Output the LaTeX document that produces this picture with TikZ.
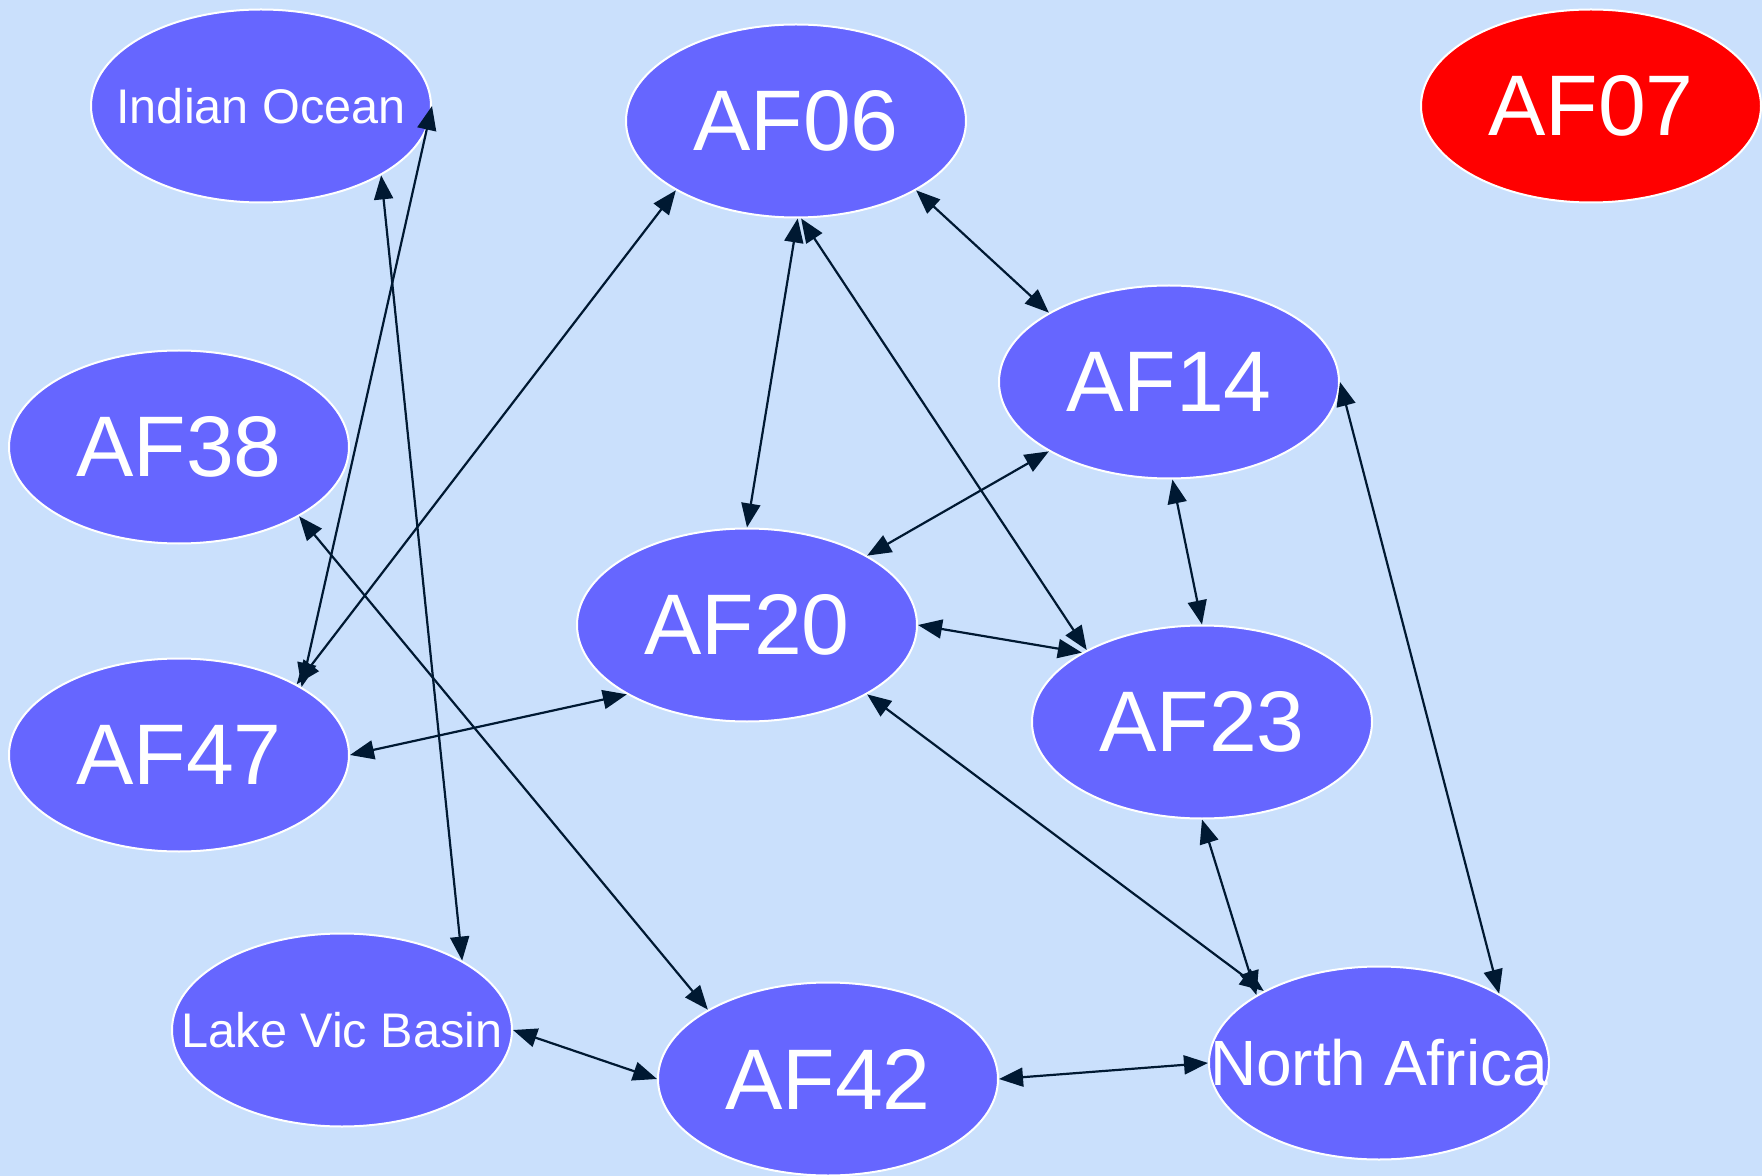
\documentclass[tikz,border=0pt]{standalone}
\usepackage{fontspec}
\setmainfont{Liberation Sans}
\usepackage{tikz}
\usetikzlibrary{shapes.geometric,arrows.meta}
\definecolor{bgblue}{RGB}{202,224,252}
\definecolor{nodeblue}{RGB}{102,102,255}
\definecolor{edgenavy}{RGB}{0,25,50}
\newcommand{\regname}[1]{\makebox[0pt]{#1}}

\begin{document}
\begin{tikzpicture}[x=0.5pt,y=-0.5pt,
	region/.style={ellipse, fill=nodeblue, draw=white, line width=1pt, minimum width=170pt, minimum height=96.5pt, inner sep=0pt, text=white},
	bigtxt/.style={font=\fontsize{43}{50}\selectfont},
	smalltxt/.style={font=\fontsize{24.3}{28}\selectfont},
	midtxt/.style={font=\fontsize{32}{38}\selectfont},
	>={Triangle[length=12pt,width=9.5pt]},
	link/.style={<->, line width=1.1pt, draw=edgenavy, fill=edgenavy}]
				\useasboundingbox (0,0) rectangle (1762,1176);
				\fill[bgblue] (0,0) rectangle (1762,1176);
				
				\node[region, smalltxt] (io) at (261,106) {\regname{Indian Ocean}};
				\node[region, bigtxt] (af06) at (796,121) {\regname{AF06}};
				\node[region, bigtxt, fill=red] (af07) at (1591,106) {\regname{AF07}};
				\node[region, bigtxt] (af38) at (179,447) {\regname{AF38}};
				\node[region, bigtxt] (af14) at (1169,382) {\regname{AF14}};
				\node[region, bigtxt] (af20) at (747,625) {\regname{AF20}};
				\node[region, bigtxt] (af23) at (1202,722) {\regname{AF23}};
				\node[region, bigtxt] (af47) at (179,755) {\regname{AF47}};
				\node[region, smalltxt] (lvb) at (342,1030) {\regname{Lake Vic Basin}};
				\node[region, bigtxt] (af42) at (828,1079) {\regname{AF42}};
				\node[region, midtxt] (na) at (1379,1063) {\regname{North Africa}};
				
				\draw[link] (io.0) -- (af47.29);
				\draw[link] (io.-30) -- (lvb.30);
				\draw[link] (af06.-150) -- (af47.31);
				\draw[link] (af06.-30) -- (af14.150);
				\draw[link] (af06.-89) -- (af20.90);
				\draw[link] (af06.-87) -- (af23.148);
				\draw[link] (af14.-150) -- (af20.30);
				\draw[link] (af14.-88) -- (af23.90);
				\draw[link] (af14.0) -- (na.30);
				\draw[link] (af20.0) -- (af23.150);
				\draw[link] (af20.-150) -- (af47.0);
				\draw[link] (af20.-30) -- (na.148);
				\draw[link] (af23.-90) -- (na.151);
				\draw[link] (af38.-30) -- (af42.150);
				\draw[link] (lvb.0) -- (af42.180);
				\draw[link] (af42.0) -- (na.180);
			\end{tikzpicture}
\end{document}
